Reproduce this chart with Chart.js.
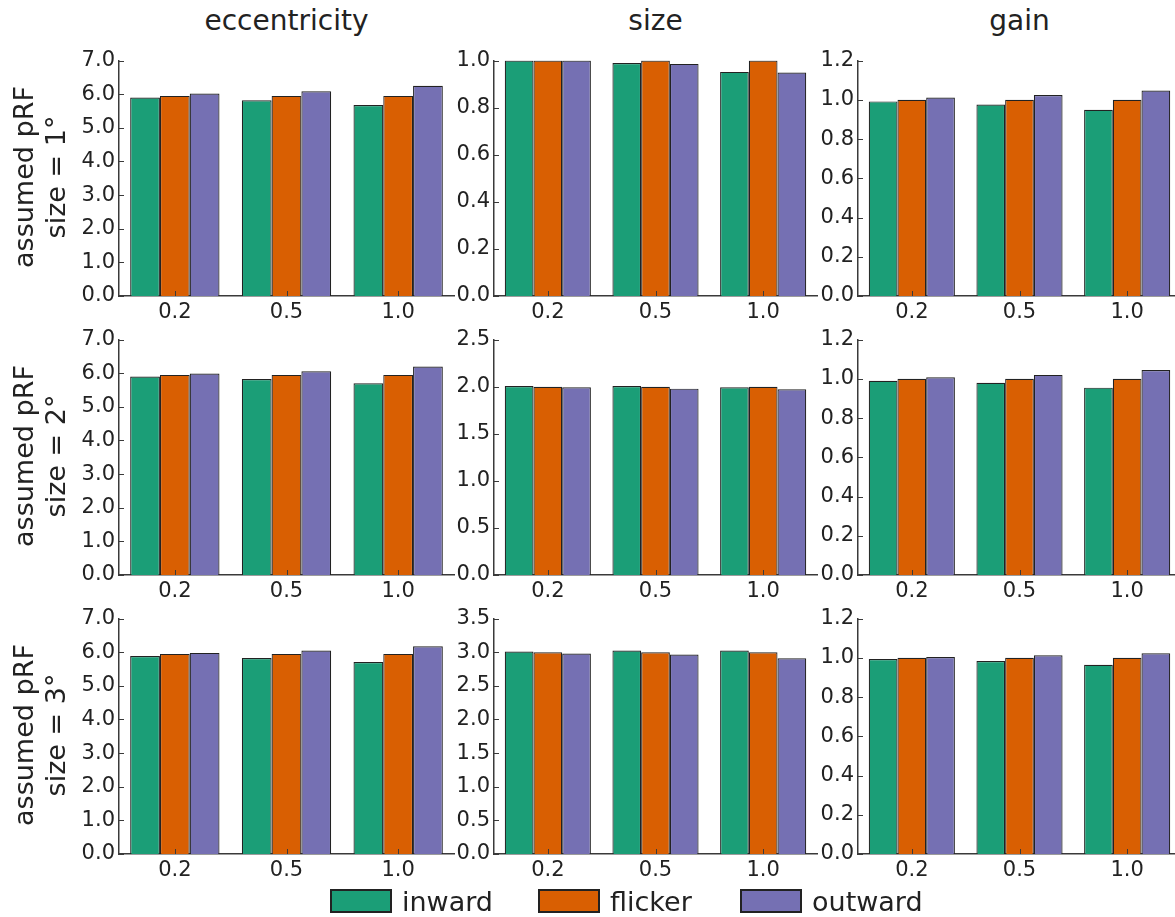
<!DOCTYPE html>
<html>
<head>
<meta charset="utf-8">
<script src="https://cdn.jsdelivr.net/npm/chart.js@4.4.0/dist/chart.umd.min.js"></script>
<style>
  html, body { margin: 0; padding: 0; background: #fff; overflow: hidden; }
  body { width: 1175px; height: 917px; position: relative; font-family: "DejaVu Sans", sans-serif; color: #222; }
  canvas { position: absolute; }
  .col-title { position: absolute; top: 7px; width: 300px; margin-left: -150px; text-align: center; font-size: 28px; line-height: 28px; }
  .row-label { position: absolute; width: 300px; height: 64px; text-align: center; font-size: 27px; line-height: 32px; transform: rotate(-90deg); }
  .legend-item { position: absolute; top: 886px; height: 30px; display: flex; align-items: center; font-size: 27px; }
  .legend-item span.box { display: inline-block; width: 58px; height: 20px; border: 2px solid #222; margin-right: 10px; }
</style>
</head>
<body>
<script>
const categories = ['0.2', '0.5', '1.0'];
const seriesNames = ['inward', 'flicker', 'outward'];
const seriesColors = ['#1b9e77', '#d95f02', '#7570b3'];
const colTitles = ['eccentricity', 'size', 'gain'];
const rowLabels = ['size = 1°', 'size = 2°', 'size = 3°'];

// one inner array per assumed pRF size (1°, 2°, 3°)
const eccInward   = [[5.90, 5.82, 5.68], [5.90, 5.83, 5.70], [5.89, 5.83, 5.71]];
const eccFlicker  = [[5.95, 5.95, 5.95], [5.95, 5.95, 5.95], [5.95, 5.95, 5.95]];
const eccOutward  = [[6.02, 6.09, 6.25], [5.99, 6.06, 6.20], [5.98, 6.05, 6.18]];

const sizeInward  = [[1.000, 0.990, 0.952], [2.007, 2.007, 1.993], [3.010, 3.025, 3.025]];
const sizeFlicker = [[1.000, 1.000, 1.000], [2.000, 2.000, 2.000], [3.000, 3.000, 3.000]];
const sizeOutward = [[1.000, 0.986, 0.949], [1.993, 1.979, 1.972], [2.980, 2.966, 2.910]];

const gainInward  = [[0.992, 0.976, 0.949], [0.990, 0.980, 0.955], [0.994, 0.984, 0.965]];
const gainFlicker = [[1.000, 1.000, 1.000], [1.000, 1.000, 1.000], [1.000, 1.000, 1.000]];
const gainOutward = [[1.012, 1.025, 1.047], [1.008, 1.020, 1.045], [1.004, 1.013, 1.023]];

// y axis ranges per column, one entry per row
const eccMax = [7, 7, 7];
const eccStep = [1, 1, 1];
const sizeMax = [1.0, 2.5, 3.5];
const sizeStep = [0.2, 0.5, 0.5];
const gainMax = [1.2, 1.2, 1.2];
const gainStep = [0.2, 0.2, 0.2];

const columns = [
  { series: [eccInward, eccFlicker, eccOutward], max: eccMax, step: eccStep },
  { series: [sizeInward, sizeFlicker, sizeOutward], max: sizeMax, step: sizeStep },
  { series: [gainInward, gainFlicker, gainOutward], max: gainMax, step: gainStep }
];

// panel geometry (plot area) and the room kept around it for the axes
const colLeft = [119, 494, 858];
const colWidth = [335, 323, 323];
const rowTop = [58, 337, 616];
const plotH = 238;
const Y_W = 52, X_H = 34, PAD_T = 14, PAD_R = 2;

const axisColor = '#3a3a3a';
const tickFont = { family: 'DejaVu Sans', size: 21 };

// matplotlib-style ticks pointing into the plot
const inwardTicks = {
  id: 'inwardTicks',
  afterDraw(chart) {
    const { ctx, chartArea, scales } = chart;
    ctx.save();
    ctx.strokeStyle = axisColor;
    ctx.lineWidth = 1;
    ctx.beginPath();
    scales.y.ticks.forEach(t => {
      const y = Math.round(scales.y.getPixelForValue(t.value)) + 0.5;
      ctx.moveTo(chartArea.left, y);
      ctx.lineTo(chartArea.left + 5, y);
    });
    scales.x.ticks.forEach((t, i) => {
      const x = Math.round(scales.x.getPixelForTick(i)) + 0.5;
      ctx.moveTo(x, chartArea.bottom);
      ctx.lineTo(x, chartArea.bottom - 5);
    });
    ctx.stroke();
    ctx.restore();
  }
};

function makePanel(col, row) {
  const canvas = document.createElement('canvas');
  const w = colWidth[col] + Y_W + PAD_R;
  const h = plotH + PAD_T + X_H;
  canvas.width = w;
  canvas.height = h;
  canvas.style.left = (colLeft[col] - Y_W) + 'px';
  canvas.style.top = (rowTop[row] - PAD_T) + 'px';
  canvas.style.width = w + 'px';
  canvas.style.height = h + 'px';
  document.body.appendChild(canvas);

  const c = columns[col];
  new Chart(canvas.getContext('2d'), {
    type: 'bar',
    data: {
      labels: categories,
      datasets: seriesNames.map((name, k) => ({
        label: name,
        data: c.series[k][row],
        backgroundColor: seriesColors[k],
        borderColor: '#222',
        borderWidth: 1.2,
        categoryPercentage: 0.8,
        barPercentage: 1.0
      }))
    },
    options: {
      responsive: false,
      animation: false,
      devicePixelRatio: 1,
      layout: { padding: { top: PAD_T, right: PAD_R, left: 0, bottom: 0 } },
      plugins: { legend: { display: false }, tooltip: { enabled: false } },
      scales: {
        x: {
          z: 1,
          grid: { display: false, drawTicks: false },
          border: { display: true, color: axisColor, width: 1.5 },
          ticks: { color: '#222', font: tickFont, padding: 4, maxRotation: 0 },
          afterFit: s => { s.height = X_H; }
        },
        y: {
          z: 1,
          min: 0,
          max: c.max[row],
          grid: { display: false, drawTicks: false },
          border: { display: true, color: axisColor, width: 1.5 },
          ticks: {
            stepSize: c.step[row],
            color: '#222',
            font: tickFont,
            padding: 4,
            callback: v => Number(v).toFixed(1)
          },
          afterFit: s => { s.width = Y_W; }
        }
      }
    },
    plugins: [inwardTicks]
  });
}

for (let r = 0; r < 3; r++) {
  for (let c = 0; c < 3; c++) makePanel(c, r);
}

// column titles
colTitles.forEach((t, c) => {
  const d = document.createElement('div');
  d.className = 'col-title';
  d.style.left = (colLeft[c] + colWidth[c] / 2) + 'px';
  d.textContent = t;
  document.body.appendChild(d);
});

// row labels, rotated
rowLabels.forEach((t, r) => {
  const d = document.createElement('div');
  d.className = 'row-label';
  d.style.left = (40 - 150) + 'px';
  d.style.top = (rowTop[r] + plotH / 2 - 32) + 'px';
  d.innerHTML = 'assumed pRF<br>' + t;
  document.body.appendChild(d);
});

// figure legend
const legendLeft = [330, 538, 740];
seriesNames.forEach((name, k) => {
  const d = document.createElement('div');
  d.className = 'legend-item';
  d.style.left = legendLeft[k] + 'px';
  const box = document.createElement('span');
  box.className = 'box';
  box.style.background = seriesColors[k];
  d.appendChild(box);
  d.appendChild(document.createTextNode(name));
  document.body.appendChild(d);
});
</script>
</body>
</html>
